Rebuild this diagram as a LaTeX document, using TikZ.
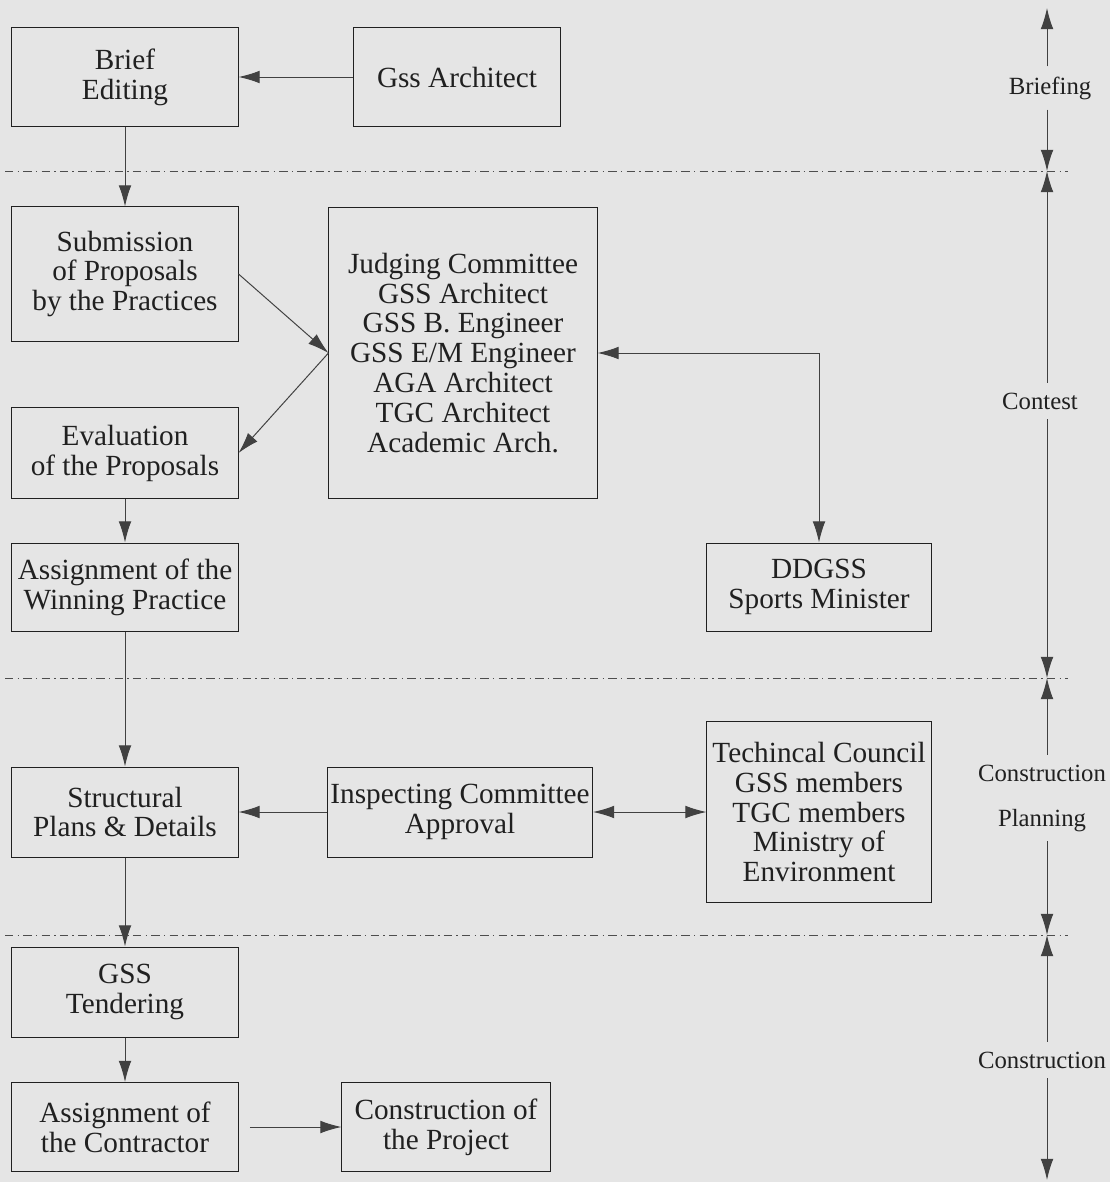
\documentclass[tikz,border=0pt]{standalone}
\usepackage{fontspec}
\setmainfont{Liberation Serif}
\usetikzlibrary{arrows.meta}

\definecolor{paper}{RGB}{229,229,229}
\definecolor{ink}{RGB}{32,32,32}

\tikzset{
    >={Latex[length=15pt,width=9pt]},
    stagebox/.style={draw=ink, line width=0.7pt, align=center, text=ink, inner sep=1pt,
        font=\fontsize{20.8}{21.3}\selectfont},
    flow/.style={draw=ink!85, line width=0.7pt, ->},
    twoway/.style={draw=ink!85, line width=0.7pt, <->},
    phase/.style={text=ink, align=center, inner sep=7pt, font=\fontsize{17.6}{32}\selectfont},
    divider/.style={draw=ink!80, line width=0.6pt, dash pattern=on 6pt off 3pt on 1pt off 3pt},
}

\begin{document}
\begin{tikzpicture}[x=0.025cm, y=-0.025cm]
        \fill[paper] (0,0) rectangle (1110,1182);
        \useasboundingbox (0,0) rectangle (1110,1182);

        % briefing
        \node[stagebox, minimum width=5.65cm, minimum height=2.45cm] (brief) at (125,77) {Brief\\Editing};
        \node[stagebox, minimum width=5.15cm, minimum height=2.45cm] (gss) at (457,77) {Gss Architect};

        % contest
        \node[stagebox, minimum width=5.65cm, minimum height=3.35cm] (subm) at (125,274) {Submission\\of Proposals\\by the Practices};
        \node[stagebox, minimum width=6.7cm, minimum height=7.275cm] (judge) at (463,353)
            {Judging Committee\\GSS Architect\\GSS B. Engineer\\GSS E/M Engineer\\AGA Architect\\TGC Architect\\Academic Arch.};
        \node[stagebox, minimum width=5.65cm, minimum height=2.25cm] (evalp) at (125,453) {Evaluation\\of the Proposals};
        \node[stagebox, minimum width=5.65cm, minimum height=2.2cm] (winner) at (125,587) {Assignment of the\\Winning Practice};
        \node[stagebox, minimum width=5.6cm, minimum height=2.2cm] (ddgss) at (819,587) {DDGSS\\Sports Minister};

        % construction planning
        \node[stagebox, minimum width=5.65cm, minimum height=2.25cm] (struct) at (125,812) {Structural\\Plans \& Details};
        \node[stagebox, minimum width=6.625cm, minimum height=2.25cm] (inspect) at (460,812) {Inspecting Committee\\Approval};
        \node[stagebox, minimum width=5.6cm, minimum height=4.525cm] (council) at (819,812)
            {Techincal Council\\GSS members\\TGC members\\Ministry of\\Environment};

        % construction
        \node[stagebox, minimum width=5.65cm, minimum height=2.25cm] (tender) at (125,992) {GSS\\Tendering};
        \node[stagebox, minimum width=5.65cm, minimum height=2.225cm] (contract) at (125,1127) {Assignment of\\the Contractor};
        \node[stagebox, minimum width=5.2cm, minimum height=2.225cm] (build) at (446,1127) {Construction of\\the Project};

        \draw[flow] (gss) -- (brief);
        \draw[flow] (brief) -- (subm);
        \draw[flow] (subm.east) -- (judge.west);
        \draw[flow] (judge.west) -- (evalp.east);
        \draw[flow] (evalp) -- (winner);
        \draw[twoway] (judge.east) -| (ddgss.north);
        \draw[flow] (winner) -- (struct);
        \draw[flow] (inspect) -- (struct);
        \draw[twoway] (inspect) -- (council);
        \draw[flow] (struct) -- (tender);
        \draw[flow] (tender) -- (contract);
        \draw[flow, shorten <=8pt] (contract) -- (build);

        % phase dividers
        \coordinate (d1a) at (5,171);  \coordinate (d1b) at (1068,171);
        \coordinate (d2a) at (5,678);  \coordinate (d2b) at (1068,678);
        \coordinate (d3a) at (5,935);  \coordinate (d3b) at (1068,935);
        \draw[divider] (d1a) -- (d1b);
        \draw[divider] (d2a) -- (d2b);
        \draw[divider] (d3a) -- (d3b);

        % time line on the right
        \coordinate (t0) at (1047,8);
        \coordinate (t1) at (1047,171);
        \coordinate (t2) at (1047,678);
        \coordinate (t3) at (1047,935);
        \coordinate (t4) at (1047,1180);

        \node[phase] (pbrief) at (1050,88) {Briefing};
        \node[phase] (pcontest) at (1040,401) {Contest};
        \node[phase] (pplan) at (1042,798) {Construction\\Planning};
        \node[phase] (pbuild) at (1042,1060) {Construction};

        \draw[flow] (pbrief.north -| t0) -- (t0);
        \draw[flow] (pbrief.south -| t1) -- (t1);
        \draw[flow] (pcontest.north -| t1) -- (t1);
        \draw[flow] (pcontest.south -| t2) -- (t2);
        \draw[flow] (pplan.north -| t2) -- (t2);
        \draw[flow] (pplan.south -| t3) -- (t3);
        \draw[flow] (pbuild.north -| t3) -- (t3);
        \draw[flow] (pbuild.south -| t4) -- (t4);
\end{tikzpicture}
\end{document}
